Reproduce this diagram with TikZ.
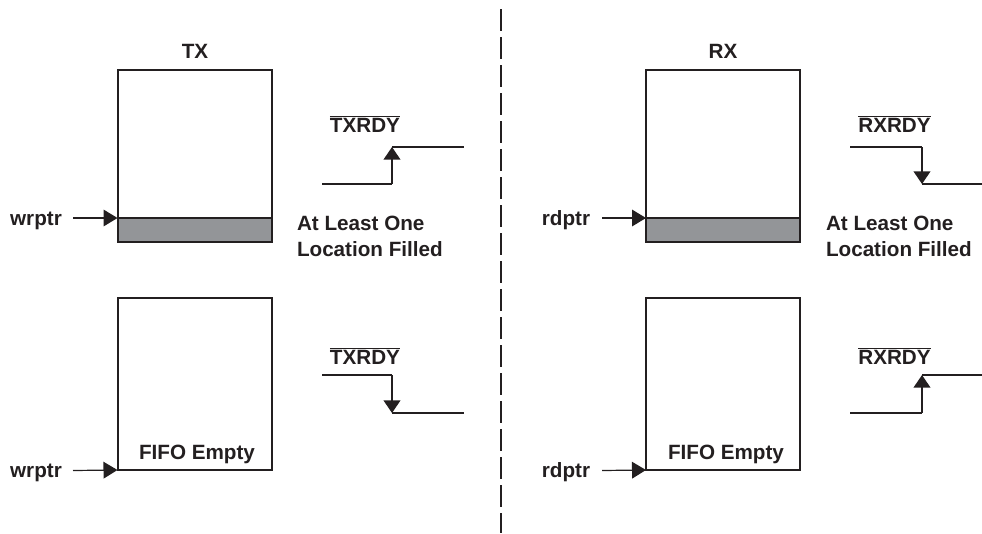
\documentclass[tikz,border=0pt]{standalone}
\usepackage{fontspec}
\setmainfont{Liberation Sans}
\usetikzlibrary{arrows.meta}
\definecolor{ink}{HTML}{231F20}
\definecolor{fillgray}{HTML}{939598}
\tikzset{
  x=0.75pt,y=-0.75pt,
  fifo/.style={draw=ink,line width=1.5pt,fill=white,minimum width=115.5pt,minimum height=129pt,inner sep=0pt,outer sep=0pt},
  filled/.style={draw=ink,fill=fillgray,line width=1.5pt,minimum width=115.5pt,minimum height=18pt,inner sep=0pt,outer sep=0pt},
  lbl/.style={font=\bfseries\fontsize{15.5pt}{18pt}\selectfont,text=ink,inner sep=0pt,outer sep=0pt},
  ptr/.style={draw=ink,line width=0.9pt,-{Triangle[length=10.5pt,width=12.5pt]}},
  wave/.style={draw=ink,line width=1.5pt},
  edge/.style={draw=ink,line width=1.5pt,-{Triangle[length=9.5pt,width=12.5pt]}},
  divider/.style={draw=ink,line width=1.5pt,dash pattern=on 16.5pt off 4.5pt},
}
\newcommand{\barred}[1]{$\overline{\hbox{#1}}$}
\begin{document}
\begin{tikzpicture}
\useasboundingbox (0,0) rectangle (982,533);
\coordinate (divtop) at (501,9);
\coordinate (divbot) at (501,533);
\draw[divider] (divtop) -- (divbot);

% TX upper
\node[fifo] (txa) at (194.5,156) {};
\node[filled] (txafill) at (194.5,230) {};
\node[lbl,anchor=base] (txt) at (195,58) {TX};
\node[lbl,anchor=base] (wa) at (36,225) {wrptr};
\coordinate (wastart) at (73,218);
\draw[ptr] (wastart) -- (txafill.north west);
\node[lbl,anchor=base] (txrdya) at (365,132.5) {\barred{TXRDY}};
\coordinate (a1) at (322,184); \coordinate (a2) at (392,184);
\coordinate (a3) at (392,147); \coordinate (a4) at (464,147);
\draw[wave] (a1) -- (a2);
\draw[edge] (a2) -- (a3);
\draw[wave] (a3) -- (a4);
\node[lbl,anchor=base west] (l1) at (297,230.5) {At Least One};
\node[lbl,anchor=base west] (l2) at (297,256) {Location Filled};

% TX lower
\node[fifo] (txb) at (194.5,384) {};
\node[lbl,anchor=base] (fe1) at (197,459) {FIFO Empty};
\node[lbl,anchor=base] (wb) at (36,477) {wrptr};
\coordinate (wbstart) at (73,470.5);
\draw[ptr] (wbstart) -- (txb.south west);
\node[lbl,anchor=base] (txrdyb) at (365,364) {\barred{TXRDY}};
\coordinate (b1) at (322,375); \coordinate (b2) at (392,375);
\coordinate (b3) at (392,413); \coordinate (b4) at (464,413);
\draw[wave] (b1) -- (b2);
\draw[edge] (b2) -- (b3);
\draw[wave] (b3) -- (b4);

% RX upper
\node[fifo] (rxa) at (723,156) {};
\node[filled] (rxafill) at (723,230) {};
\node[lbl,anchor=base] (rxt) at (723,58) {RX};
\node[lbl,anchor=base] (ra) at (566,225) {rdptr};
\coordinate (rastart) at (602,218);
\draw[ptr] (rastart) -- (rxafill.north west);
\node[lbl,anchor=base] (rxrdya) at (894.5,132.5) {\barred{RXRDY}};
\coordinate (c1) at (850,147); \coordinate (c2) at (922,147);
\coordinate (c3) at (922,184); \coordinate (c4) at (982,184);
\draw[wave] (c1) -- (c2);
\draw[edge] (c2) -- (c3);
\draw[wave] (c3) -- (c4);
\node[lbl,anchor=base west] (r1) at (826,230.5) {At Least One};
\node[lbl,anchor=base west] (r2) at (826,256) {Location Filled};

% RX lower
\node[fifo] (rxb) at (723,384) {};
\node[lbl,anchor=base] (fe2) at (726,459) {FIFO Empty};
\node[lbl,anchor=base] (rb) at (566,477) {rdptr};
\coordinate (rbstart) at (602,470.5);
\draw[ptr] (rbstart) -- (rxb.south west);
\node[lbl,anchor=base] (rxrdyb) at (894.5,364) {\barred{RXRDY}};
\coordinate (d1) at (850,413); \coordinate (d2) at (922,413);
\coordinate (d3) at (922,375); \coordinate (d4) at (982,375);
\draw[wave] (d1) -- (d2);
\draw[edge] (d2) -- (d3);
\draw[wave] (d3) -- (d4);
\end{tikzpicture}
\end{document}
